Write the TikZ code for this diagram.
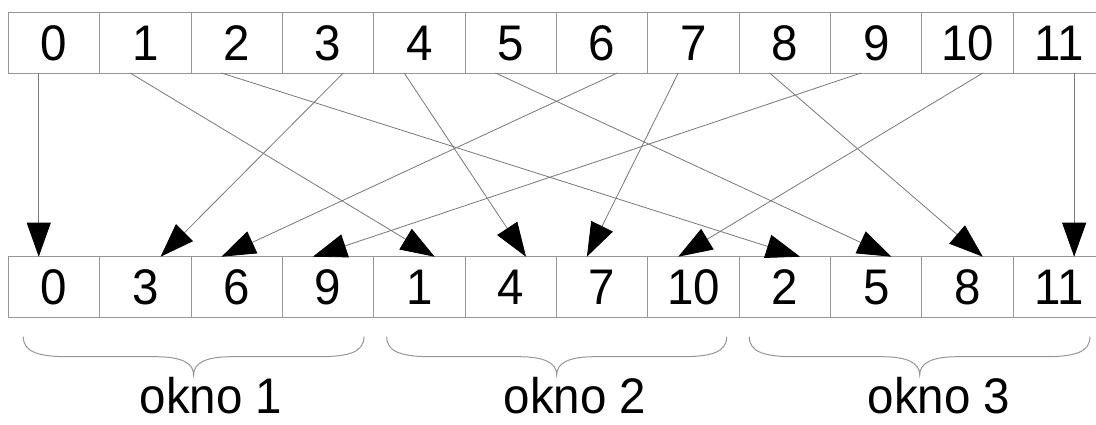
\documentclass[tikz,border=0pt]{standalone}
\usepackage{fontspec}
\setmainfont{Liberation Sans}
\newfontfamily\diafont[FakeStretch=0.95]{Liberation Sans}
\usetikzlibrary{arrows.meta,calc}
\definecolor{boxgray}{RGB}{150,150,150}
\definecolor{linegray}{RGB}{120,120,120}
\begin{document}
\begin{tikzpicture}[x=1pt,y=-1pt,
  cell/.style={draw=boxgray, line width=1pt, minimum width=91.36pt, minimum height=60.3pt,
    inner sep=0pt, outer sep=0pt, anchor=north west,
    font=\diafont\fontsize{50}{54}\selectfont, text height=36pt, text depth=0pt},
  conn/.style={draw=linegray, line width=0.8pt,
    -{Triangle[length=34pt,width=24pt,color=black,fill=black]}},
  brace/.style={draw=boxgray, line width=1pt},
  lab/.style={anchor=base, inner sep=0pt, font=\diafont\fontsize{50}{54}\selectfont}]
\useasboundingbox (0,0) rectangle (1096,424);
\foreach \i in {0,...,11}
  \node[cell] (t\i) at ({8.3+91.36*\i},12.7) {\i};
\foreach \lab [count=\i from 0] in {0,3,6,9,1,4,7,10,2,5,8,11}
  \node[cell] (b\i) at ({8.3+91.36*\i},256.7) {\lab};
\foreach \s/\fs/\d/\fd in {0/1/0/1, 1/1/4/2, 2/1/8/2, 3/2/1/2, 4/1/5/2, 5/1/9/2,
    6/2/2/1, 7/1/6/1, 8/1/10/2, 9/1/3/1, 10/2/7/1, 11/2/11/2}
  \draw[conn] ($(t\s.south west)!\fs/3!(t\s.south east)$) -- ($(b\d.north west)!\fd/3!(b\d.north east)$);
\foreach \xl/\m/\xr in {23.3/193.6/364, 386.7/556.7/726.7, 749.3/919.7/1090}
  \draw[brace] (\xl,336.7) .. controls (\xl,352) and (\xl+15,356.7) .. (\xl+45,356.7)
    -- (\m-38,356.7) .. controls (\m-12,356.7) and (\m,363) .. (\m,375)
    .. controls (\m,363) and (\m+12,356.7) .. (\m+38,356.7)
    -- (\xr-45,356.7) .. controls (\xr-15,356.7) and (\xr,352) .. (\xr,336.7);
\node[lab] (w1) at (211,413) {okno 1};
\node[lab] (w2) at (575,413) {okno 2};
\node[lab] (w3) at (939,413) {okno 3};
\end{tikzpicture}
\end{document}
